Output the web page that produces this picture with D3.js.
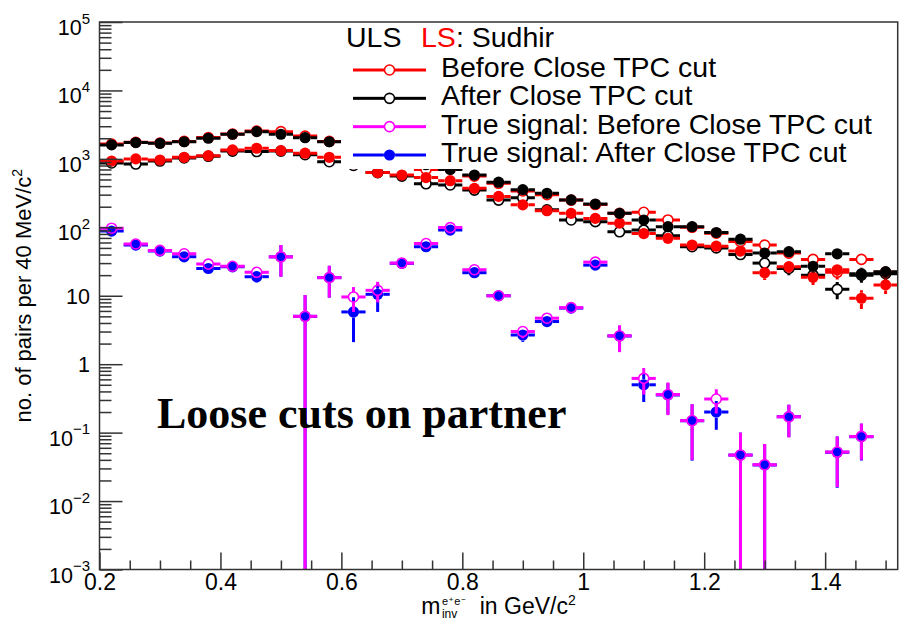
<!DOCTYPE html>
<html>
<head>
<meta charset="utf-8">
<script src="https://cdn.jsdelivr.net/npm/d3@7"></script>
<style>
  html, body { margin: 0; padding: 0; background: #fff; }
  svg { display: block; }
  text { font-family: "Liberation Sans", Arial, Helvetica, sans-serif; fill: #000; }
</style>
</head>
<body>
<svg id="chart" width="899" height="623"></svg>
<script>
// Invariant-mass bin centres (GeV/c^2), 40 MeV wide bins
const massBins = [0.22, 0.26, 0.30, 0.34, 0.38, 0.42, 0.46, 0.50, 0.54, 0.58,
                  0.62, 0.66, 0.70, 0.74, 0.78, 0.82, 0.86, 0.90, 0.94, 0.98,
                  1.02, 1.06, 1.10, 1.14, 1.18, 1.22, 1.26, 1.30, 1.34, 1.38,
                  1.42, 1.46, 1.50];
const binHalfWidth = 0.02;

// Unlike-sign pairs, before the close-TPC cut (red, open circles)
const ulsBefore = [1650, 1750, 1700, 1800, 2050, 2300, 2550, 2500, 2150, 1800,
                   1350, 1150, 950, 700, 720, 560, 440, 340, 300, 250,
                   215, 160, 166, 128, 100, 82, 62, 55, 42, 34,
                   22, 34, 22];
const ulsBeforeErr = [40, 42, 41, 42, 45, 48, 50, 50, 46, 42,
                      37, 34, 31, 26, 27, 24, 21, 18, 17, 16,
                      15, 13, 13, 11, 10, 9, 8, 7.4, 6.5, 5.8,
                      4.7, 5.8, 4.7];
// Unlike-sign pairs, after the close-TPC cut (black, open circles)
const ulsAfter = [870, 840, 930, 1030, 1090, 1300, 1280, 1300, 1150, 910,
                  800, 630, 560, 432, 415, 350, 250, 270, 180, 128,
                  121, 86, 91, 75, 52, 50, 40, 30, 25, 20,
                  12.4, 20, 21];
const ulsAfterErr = [29, 29, 30, 32, 33, 36, 36, 36, 34, 30,
                     28, 25, 24, 21, 20, 19, 16, 16, 13, 11,
                     11, 9.3, 9.5, 8.7, 7.2, 7.1, 6.3, 5.5, 5, 4.5,
                     3.5, 4.5, 4.6];
// Like-sign pairs, before the close-TPC cut (red, filled circles)
const lsBefore = [930, 1000, 963, 1054, 1114, 1350, 1430, 1320, 1210, 1054,
                  850, 630, 581, 533, 480, 371, 283, 213, 175, 160,
                  135, 115, 81, 69, 55, 53, 45, 21.7, 26.6, 18.6,
                  24, 9.2, 14.4];
const lsBeforeErr = [30, 32, 31, 32, 33, 37, 38, 36, 35, 32,
                     29, 25, 24, 23, 22, 19, 17, 15, 13, 13,
                     12, 11, 9, 8.3, 7.4, 7.3, 6.7, 4.7, 5.2, 4.3,
                     4.9, 2.8, 3.8];
// Like-sign pairs, after the close-TPC cut (black, filled circles)
const lsAfter = [1600, 1730, 1690, 1780, 2000, 2290, 2500, 2290, 2040, 1780,
                 1300, 1100, 950, 820, 700, 580, 456, 355, 314, 251,
                 219, 160, 128, 102, 102, 84, 67, 42, 44, 27,
                 41, 21, 22.5];
const lsAfterErr = [40, 42, 41, 42, 45, 48, 50, 48, 45, 42,
                    36, 33, 31, 29, 26, 24, 21, 19, 18, 16,
                    15, 13, 11, 10, 10, 9.2, 8.2, 6.5, 6.6, 5.2,
                    6.4, 4.6, 4.7];
// True signal, before the close-TPC cut (magenta, open circles)
const trueBefore = [97, 57, 46, 41, 29, 27, 22, 37, 5.0, 18.4,
                    9.6, 12, 30, 58, 99, 24, 10, 3.0, 4.7, 6.7,
                    31, 2.6, 0.62, 0.36, 0.15, 0.31, 0.047, 0.034, 0.17, null,
                    0.052, 0.088, null];
const trueBeforeErr = [5, 4, 3, 3, 3, 3, 3.5, 18, 5.2, 9,
                       3.8, 4, 4, 5, 8, 2.5, 1.3, 0.6, 0.7, 0.8,
                       3, 1.1, 0.26, 0.18, 0.11, 0.12, 0.053, 0.034, 0.085, null,
                       0.036, 0.048, null];
// True signal, after the close-TPC cut (blue, filled circles)
const trueAfter = [88, 55, 45, 37, 25, 26.5, 19, 37, 5.0, 18.4,
                   5.8, 10.5, 29.8, 52, 91, 21.7, 10, 2.67, 4.2, 6.6,
                   28, 2.58, 0.5, 0.355, 0.149, 0.2, 0.047, 0.0337, 0.171, null,
                   0.0516, 0.0873, null];
const trueAfterErr = [5, 4, 3, 3, 2.5, 3, 3.5, 18, 5.2, 9,
                      3.7, 4.7, 4, 5, 8, 2.5, 1.3, 0.55, 0.6, 0.8,
                      3, 1.05, 0.22, 0.17, 0.11, 0.09, 0.053, 0.034, 0.085, null,
                      0.036, 0.048, null];

// Axis ticks
const xMajorTicks = [0.2, 0.4, 0.6, 0.8, 1.0, 1.2, 1.4];
const xMinorTicks = [0.25, 0.3, 0.35, 0.45, 0.5, 0.55, 0.65, 0.7, 0.75, 0.85, 0.9, 0.95,
                     1.05, 1.1, 1.15, 1.25, 1.3, 1.35, 1.45, 1.5];
const xTickLabels = ["0.2", "0.4", "0.6", "0.8", "1", "1.2", "1.4"];
const yDecadeExponents = [-3, -2, -1, 0, 1, 2, 3, 4, 5];
const yMinorMantissas = [2, 3, 4, 5, 6, 7, 8, 9];

// Legend entries
const legendHeader = { left: "ULS", right: "LS", rest: ": Sudhir" };
const legendLabels = ["Before Close TPC cut", "After Close TPC cut",
                      "True signal: Before Close TPC cut", "True signal: After Close TPC cut"];

const svg = d3.select("#chart");
const frame = { x0: 99.5, x1: 897.7, y0: 22, y1: 569.5 };

const x = d3.scaleLinear().domain([0.2, 1.52]).range([frame.x0, frame.x1]);
const y = d3.scaleLog().domain([1e-3, 1e5]).range([frame.y1, frame.y0]);

svg.append("defs").append("clipPath").attr("id", "plotClip")
  .append("rect")
  .attr("x", frame.x0).attr("y", frame.y0)
  .attr("width", frame.x1 - frame.x0).attr("height", frame.y1 - frame.y0);

const plot = svg.append("g").attr("clip-path", "url(#plotClip)");

// Build one histogram layer: horizontal bin-width bars, vertical error bars, markers
function drawHisto(layer, values, errors, color, filled) {
  const r = filled ? 5.6 : 5.0;
  const pts = massBins.map((b, i) => ({ b, v: values[i], e: errors[i] }))
    .filter(d => d.v != null);
  const g = layer.append("g");
  const segs = [];
  pts.forEach(d => {
    const cx = x(d.b), cy = y(d.v);
    segs.push([x(d.b - binHalfWidth), cy, cx - r, cy]);
    segs.push([cx + r, cy, x(d.b + binHalfWidth), cy]);
    if (d.e) {
      const yt = y(d.v + d.e);
      const yb = d.v - d.e > 1e-6 ? y(d.v - d.e) : frame.y1 + 20;
      if (cy - r > yt) segs.push([cx, yt, cx, cy - r]);
      if (yb > cy + r) segs.push([cx, cy + r, cx, yb]);
    }
  });
  g.selectAll("line").data(segs).join("line")
    .attr("x1", s => s[0]).attr("y1", s => s[1])
    .attr("x2", s => s[2]).attr("y2", s => s[3])
    .attr("stroke", color).attr("stroke-width", 3);
  g.selectAll("circle").data(pts).join("circle")
    .attr("cx", d => x(d.b)).attr("cy", d => y(d.v)).attr("r", r)
    .attr("fill", filled ? color : "none")
    .attr("stroke", color).attr("stroke-width", filled ? 0 : 1.6);
}

drawHisto(plot, ulsBefore, ulsBeforeErr, "#ff0000", false);
drawHisto(plot, ulsAfter, ulsAfterErr, "#000000", false);
drawHisto(plot, lsBefore, lsBeforeErr, "#ff0000", true);
drawHisto(plot, lsAfter, lsAfterErr, "#000000", true);

// Annotation
svg.append("text")
  .attr("x", 157).attr("y", 428)
  .style("font-family", "'Liberation Serif', 'Times New Roman', serif")
  .style("font-weight", "bold").style("font-size", "44px")
  .text("Loose cuts on partner");

drawHisto(plot, trueAfter, trueAfterErr, "#0000ff", true);
drawHisto(plot, trueBefore, trueBeforeErr, "#ff00ff", false);

// Legend (opaque box)
const leg = svg.append("g");
leg.append("rect").attr("x", 341).attr("y", 23.5).attr("width", 545).attr("height", 145.5)
  .attr("fill", "#fff");
const hdr = leg.append("text").attr("x", 346).attr("y", 47).style("font-size", "28.5px");
hdr.append("tspan").text(legendHeader.left);
hdr.append("tspan").attr("x", 421).style("fill", "#ff0000").text(legendHeader.right);
hdr.append("tspan").text(legendHeader.rest);

const legendStyles = [
  { color: "#ff0000", filled: false },
  { color: "#000000", filled: false },
  { color: "#ff00ff", filled: false },
  { color: "#0000ff", filled: true }
];
const rowY = d3.scaleLinear().domain([0, 3]).range([70, 155]);
const rows = leg.selectAll("g.row").data(legendLabels).join("g").attr("class", "row");
rows.each(function (label, i) {
  const g = d3.select(this);
  const st = legendStyles[i];
  const cy = rowY(i), cx = 389.5, r = st.filled ? 5.6 : 5.0;
  g.append("line").attr("x1", 353).attr("x2", cx - r).attr("y1", cy).attr("y2", cy)
    .attr("stroke", st.color).attr("stroke-width", 3);
  g.append("line").attr("x1", cx + r).attr("x2", 426).attr("y1", cy).attr("y2", cy)
    .attr("stroke", st.color).attr("stroke-width", 3);
  g.append("circle").attr("cx", cx).attr("cy", cy).attr("r", r)
    .attr("fill", st.filled ? st.color : "none")
    .attr("stroke", st.color).attr("stroke-width", st.filled ? 0 : 1.6);
  g.append("text").attr("x", 441).attr("y", cy + 7).style("font-size", "28.5px").text(label);
});

// Axes (ticks point into the frame)
const axisColor = "#333";
const xMajor = svg.append("g").attr("transform", `translate(0,${frame.y1})`)
  .call(d3.axisBottom(x).tickValues(xMajorTicks).tickSize(-17).tickPadding(3.7)
    .tickFormat((d, i) => xTickLabels[i]));
const xMinor = svg.append("g").attr("transform", `translate(0,${frame.y1})`)
  .call(d3.axisBottom(x).tickValues(xMinorTicks).tickSize(-9).tickFormat(""));
[xMajor, xMinor].forEach(a => {
  a.select(".domain").remove();
  a.selectAll(".tick line").attr("stroke", axisColor).attr("stroke-width", 1.5);
});
xMajor.selectAll(".tick text").style("font-size", "23px")
  .style("font-family", "'Liberation Sans', Arial, sans-serif").attr("fill", "#000");

const yMinorVals = [];
yDecadeExponents.slice(0, -1).forEach(k => yMinorMantissas.forEach(m => yMinorVals.push(m * Math.pow(10, k))));
const yMajor = svg.append("g").attr("transform", `translate(${frame.x0},0)`)
  .call(d3.axisLeft(y).tickValues(yDecadeExponents.map(k => Math.pow(10, k))).tickSize(-23).tickFormat(""));
const yMinor = svg.append("g").attr("transform", `translate(${frame.x0},0)`)
  .call(d3.axisLeft(y).tickValues(yMinorVals).tickSize(-12).tickFormat(""));
[yMajor, yMinor].forEach(a => {
  a.select(".domain").remove();
  a.selectAll(".tick line").attr("stroke", axisColor).attr("stroke-width", 1.5);
});
// Decade labels: 1, 10 and 10^k
yMajor.selectAll(".tick").each(function (d, i) {
  const k = yDecadeExponents[i];
  const g = d3.select(this);
  g.select("text").remove();
  const t = g.append("text").attr("x", -9.5).attr("text-anchor", "end")
    .style("font-size", "21.5px").attr("fill", "#000")
    .style("font-family", "'Liberation Sans', Arial, sans-serif");
  if (k === 0 || k === 1) {
    t.attr("y", 7.5).text(k === 0 ? "1" : "10");
  } else {
    t.attr("y", 12.5).text("10");
    t.append("tspan").attr("dy", -11.5).style("font-size", "15px")
      .text(k < 0 ? "\u2212" + (-k) : String(k));
  }
});

// Frame
svg.append("rect").attr("x", frame.x0).attr("y", frame.y0)
  .attr("width", frame.x1 - frame.x0).attr("height", frame.y1 - frame.y0)
  .attr("fill", "none").attr("stroke", axisColor).attr("stroke-width", 1.5);

// Axis titles: m_inv^{e+e-} in GeV/c^2
const xt = svg.append("g");
const m = xt.append("text").attr("x", 0).attr("y", 0).style("font-size", "23px").text("m");
const mW = m.node().getComputedTextLength();
// superscript e^{+}e^{-}, each piece placed after the previous one
const supParts = [
  { s: "e", size: 11, dy: -9 },
  { s: "+", size: 8, dy: -12 },
  { s: "e", size: 11, dy: -9 },
  { s: "\u2212", size: 8, dy: -12 }
];
let cursor = mW + 1.5;
supParts.forEach(p => {
  const t = xt.append("text").attr("x", cursor).attr("y", p.dy)
    .style("font-size", p.size + "px").text(p.s);
  cursor += t.node().getComputedTextLength() + 0.8;
});
const supEnd = cursor;
const sub = xt.append("text").attr("x", mW + 1.5).attr("y", 4).style("font-size", "12px").text("inv");
const subEnd = mW + 1.5 + sub.node().getComputedTextLength();
const rest = xt.append("text").attr("x", Math.max(supEnd, subEnd) + 13).attr("y", 0).style("font-size", "23px");
rest.append("tspan").text("in GeV/c");
rest.append("tspan").attr("dy", -9).style("font-size", "14px").text("2");
const xtBox = xt.node().getBBox();
xt.attr("transform", `translate(${(frame.x0 + frame.x1) / 2 - xtBox.x - xtBox.width / 2},614)`);

const yt = svg.append("text")
  .attr("transform", `translate(31,${(frame.y0 + frame.y1) / 2}) rotate(-90)`)
  .attr("text-anchor", "middle").style("font-size", "22px");
yt.append("tspan").text("no. of pairs per 40 MeV/c");
yt.append("tspan").attr("dy", -9).style("font-size", "14px").text("2");
</script>
</body>
</html>
